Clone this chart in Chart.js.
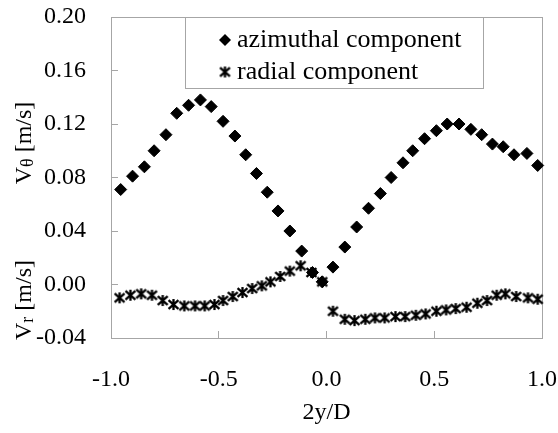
<!DOCTYPE html>
<html>
<head>
<meta charset="utf-8">
<script src="https://cdn.jsdelivr.net/npm/chart.js@4.4.1/dist/chart.umd.min.js"></script>
<style>
  html, body { margin: 0; padding: 0; background: #fff; }
  #wrap { width: 558px; height: 433px; }
</style>
</head>
<body>
<div id="wrap"><canvas id="grafico"></canvas></div>
<script>
// posições 2y/D e velocidades
const xAzimutal = [-0.955, -0.90, -0.845, -0.80, -0.745, -0.695, -0.64, -0.585, -0.535, -0.48,
                   -0.425, -0.375, -0.325, -0.275, -0.225, -0.17, -0.115, -0.065, -0.02,
                   0.03, 0.085, 0.14, 0.195, 0.25, 0.30, 0.355, 0.40, 0.455, 0.51,
                   0.56, 0.615, 0.67, 0.72, 0.77, 0.82, 0.87, 0.93, 0.98];
const vAzimutal = [0.071, 0.081, 0.088, 0.100, 0.112, 0.128, 0.134, 0.138, 0.133, 0.122,
                   0.111, 0.097, 0.083, 0.069, 0.055, 0.040, 0.025, 0.009, 0.002,
                   0.013, 0.028, 0.043, 0.057, 0.068, 0.080, 0.091, 0.100, 0.109, 0.115,
                   0.120, 0.120, 0.116, 0.112, 0.105, 0.103, 0.097, 0.098, 0.089];

const xRadial = [-0.96, -0.91, -0.86, -0.81, -0.76, -0.71, -0.66, -0.61, -0.565, -0.52,
                 -0.48, -0.435, -0.39, -0.345, -0.30, -0.26, -0.215, -0.17, -0.12, -0.07, -0.02,
                 0.03, 0.085, 0.13, 0.18, 0.225, 0.27, 0.32, 0.365, 0.415, 0.46, 0.51,
                 0.555, 0.60, 0.65, 0.70, 0.745, 0.79, 0.83, 0.88, 0.935, 0.98];
const vRadial = [-0.010, -0.008, -0.007, -0.008, -0.012, -0.015, -0.016, -0.016, -0.016, -0.015,
                 -0.012, -0.009, -0.006, -0.003, -0.001, 0.002, 0.006, 0.010, 0.014, 0.009, 0.002,
                 -0.020, -0.026, -0.027, -0.026, -0.025, -0.025, -0.024, -0.024, -0.023, -0.022, -0.020,
                 -0.019, -0.018, -0.017, -0.014, -0.012, -0.008, -0.007, -0.009, -0.010, -0.011];

const xTickValues = [-1.0, -0.5, 0.0, 0.5, 1.0];
const yTickValues = [-0.04, 0.00, 0.04, 0.08, 0.12, 0.16, 0.20];

const serif = "'Liberation Serif', 'Times New Roman', serif";
const cinza = "#a6a6a6";

// marcador asterisco (X com barra vertical)
function criarAsterisco(tam) {
    const c = document.createElement("canvas");
    c.width = tam; c.height = tam;
    const g = c.getContext("2d");
    const m = tam / 2, r = tam / 2 - 1;
    g.strokeStyle = "#000";
    g.lineWidth = 2.3;
    g.beginPath();
    g.moveTo(m, m - r); g.lineTo(m, m + r);
    g.moveTo(m - r * 0.9, m - r * 0.8); g.lineTo(m + r * 0.9, m + r * 0.8);
    g.moveTo(m - r * 0.9, m + r * 0.8); g.lineTo(m + r * 0.9, m - r * 0.8);
    g.stroke();
    return c;
}
const asterisco = criarAsterisco(13);

function pontos(xs, ys) {
    return xs.map((x, i) => ({ x: x, y: ys[i] }));
}

// sem folga extra das escalas: a área do gráfico vem só do layout
function semFolga(s) {
    s.paddingTop = 0; s.paddingBottom = 0; s.paddingLeft = 0; s.paddingRight = 0;
}

// moldura, legenda e títulos do eixo y
const extras = {
    id: "extras",
    beforeDatasetsDraw(chart) {
        const a = chart.chartArea, ctx = chart.ctx;
        ctx.save();
        ctx.strokeStyle = cinza;
        ctx.lineWidth = 1;
        ctx.strokeRect(Math.round(a.left) + 0.5, Math.round(a.top) + 0.5,
                       Math.round(a.right - a.left), Math.round(a.bottom - a.top));
        ctx.restore();
    },
    afterDatasetsDraw(chart) {
        const ctx = chart.ctx;
        ctx.save();
        // caixa da legenda
        ctx.fillStyle = "#fff";
        ctx.fillRect(185.5, 17.5, 298, 71);
        ctx.strokeStyle = cinza;
        ctx.strokeRect(185.5, 17.5, 298, 71);
        ctx.fillStyle = "#000";
        ctx.font = "26px " + serif;
        ctx.textBaseline = "middle";
        const linhas = [40, 72];
        chart.data.datasets.forEach((ds, i) => {
            const y = linhas[i];
            if (ds.pointStyle === "rectRot") {
                ctx.beginPath();
                ctx.moveTo(225, y - 6); ctx.lineTo(231, y);
                ctx.lineTo(225, y + 6); ctx.lineTo(219, y);
                ctx.closePath();
                ctx.fill();
            } else {
                ctx.drawImage(asterisco, 225 - 6.5, y - 6.5);
            }
            ctx.fillText(ds.label, 237, y);
        });
        // títulos verticais
        function titulo(sub, cx, cy) {
            ctx.save();
            ctx.translate(cx, cy);
            ctx.rotate(-Math.PI / 2);
            ctx.textBaseline = "middle";
            const f1 = "24px " + serif, f2 = "18px " + serif;
            ctx.font = f1; const w1 = ctx.measureText("V").width;
            ctx.font = f2; const w2 = ctx.measureText(sub).width;
            ctx.font = f1; const w3 = ctx.measureText(" [m/s]").width;
            let x = -(w1 + w2 + w3) / 2;
            ctx.font = f1; ctx.fillText("V", x, 0); x += w1;
            ctx.font = f2; ctx.fillText(sub, x, 3); x += w2;
            ctx.font = f1; ctx.fillText(" [m/s]", x, 0);
            ctx.restore();
        }
        titulo("\u03b8", 25, 143);
        titulo("r", 25, 300);
        ctx.restore();
    }
};

new Chart(document.getElementById("grafico"), {
    type: "scatter",
    data: {
        datasets: [{
            label: "azimuthal component",
            data: pontos(xAzimutal, vAzimutal),
            pointStyle: "rectRot",
            pointRadius: 6,
            pointBorderWidth: 1,
            backgroundColor: "#000",
            borderColor: "#000",
            clip: false
        }, {
            label: "radial component",
            data: pontos(xRadial, vRadial),
            pointStyle: asterisco,
            pointRadius: 6,
            backgroundColor: "#000",
            borderColor: "#000",
            clip: false
        }]
    },
    options: {
        responsive: true,
        maintainAspectRatio: false,
        animation: false,
        layout: { padding: { top: 17, right: 16, left: 0, bottom: 0 } },
        plugins: {
            legend: { display: false },
            tooltip: { enabled: false }
        },
        scales: {
            x: {
                type: "linear",
                min: -1, max: 1,
                afterBuildTicks: s => { s.ticks = xTickValues.map(v => ({ value: v })); },
                afterFit: s => { s.height = 95; semFolga(s); },
                grid: { drawOnChartArea: false, color: cinza, tickLength: -7 },
                border: { color: cinza },
                ticks: {
                    color: "#000",
                    padding: 34,
                    maxRotation: 0,
                    font: { family: serif, size: 24 },
                    callback: v => v.toFixed(1)
                },
                title: {
                    display: true,
                    text: "2y/D",
                    color: "#000",
                    padding: { top: 0, bottom: 6 },
                    font: { family: serif, size: 24 }
                }
            },
            y: {
                type: "linear",
                min: -0.04, max: 0.20,
                afterBuildTicks: s => { s.ticks = yTickValues.map(v => ({ value: v })); },
                afterFit: s => { s.width = 111; semFolga(s); },
                grid: { drawOnChartArea: false, color: cinza, tickLength: -7 },
                border: { color: cinza },
                ticks: {
                    color: "#000",
                    padding: 32,
                    font: { family: serif, size: 24 },
                    callback: v => (Math.abs(v) < 1e-9 ? 0 : v).toFixed(2)
                }
            }
        }
    },
    plugins: [extras]
});
</script>
</body>
</html>
